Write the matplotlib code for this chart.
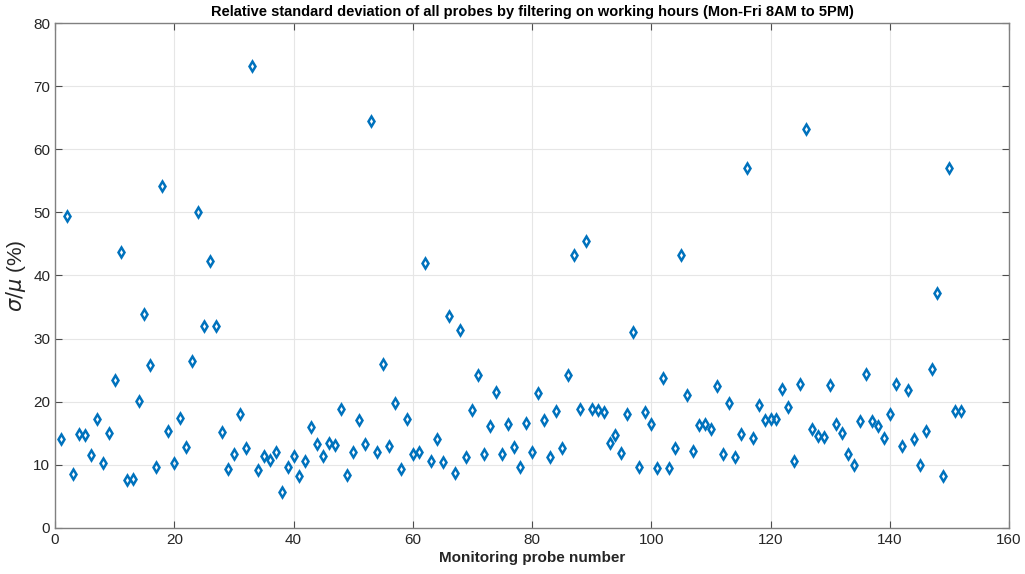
import matplotlib
matplotlib.use("Agg")
import matplotlib.pyplot as plt

# --- data: relative std dev per monitoring probe ---
probe_ids = list(range(1, 153))
rsd_pct = [
    14.1, 49.5, 8.5, 14.8, 14.7, 11.6, 17.3, 10.3, 15.0, 23.4,
    43.7, 7.5, 7.7, 20.1, 33.9, 25.8, 9.7, 54.2, 15.4, 10.3,
    17.4, 12.8, 26.4, 50.0, 32.0, 42.3, 32.0, 15.2, 9.3, 11.7,
    18.0, 12.6, 73.3, 9.1, 11.4, 10.8, 12.0, 5.7, 9.6, 11.4,
    8.2, 10.5, 16.0, 13.2, 11.3, 13.4, 13.1, 18.8, 8.4, 12.0,
    17.1, 13.2, 64.5, 12.0, 26.0, 12.9, 19.7, 9.3, 17.3, 11.7,
    12.0, 42.0, 10.5, 14.0, 10.4, 33.6, 8.7, 31.3, 11.2, 18.6,
    24.2, 11.7, 16.2, 21.5, 11.7, 16.4, 12.8, 9.7, 16.6, 12.0,
    21.3, 17.0, 11.2, 18.5, 12.7, 24.2, 43.2, 18.8, 45.4, 18.8,
    18.7, 18.4, 13.4, 14.7, 11.9, 18.0, 31.1, 9.7, 18.3, 16.5,
    9.5, 23.8, 9.5, 12.7, 43.3, 21.0, 12.1, 16.3, 16.4, 15.7,
    22.5, 11.7, 19.8, 11.2, 14.8, 57.0, 14.3, 19.4, 17.1, 17.3,
    17.3, 22.0, 19.2, 10.6, 22.8, 63.3, 15.6, 14.5, 14.4, 22.7,
    16.4, 15.0, 11.7, 10.0, 16.9, 24.4, 16.9, 16.2, 14.3, 18.0,
    22.8, 13.0, 21.9, 14.1, 9.9, 15.4, 25.2, 37.2, 8.2, 57.0,
    18.5, 18.5,
]
x_ticks = [0, 20, 40, 60, 80, 100, 120, 140, 160]
y_ticks = [0, 10, 20, 30, 40, 50, 60, 70, 80]

plt.rcParams['font.family'] = ['Liberation Sans', 'DejaVu Sans']

fig = plt.figure(figsize=(10.25, 5.74), dpi=100)
ax = fig.add_axes([0.0537, 0.0807, 0.9307, 0.8787])

ax.plot(probe_ids, rsd_pct, linestyle='none', marker='d', markersize=5.5,
        markerfacecolor='none', markeredgecolor='#0072BD', markeredgewidth=1.8)

ax.set_xlim(0, 160)
ax.set_ylim(0, 80)
ax.set_xticks(x_ticks)
ax.set_yticks(y_ticks)
ax.grid(True, color='#e6e6e6', linewidth=0.8)
ax.set_axisbelow(True)

# matlab-ish box with inward ticks on all sides
ax.tick_params(direction='in', top=True, right=True, length=5,
               colors='#4d4d4d', labelcolor='#262626', labelsize=11)
for s in ax.spines.values():
    s.set_color('#808080')
    s.set_linewidth(1.0)

ax.set_title("Relative standard deviation of all probes by filtering on working hours (Mon-Fri 8AM to 5PM)",
             fontsize=10.5, fontweight='bold', pad=5)
ax.set_xlabel("Monitoring probe number", fontsize=11, fontweight='bold', color='#262626', labelpad=3)
ax.set_ylabel(r"$\sigma/\mu$ (%)", fontsize=15, color='#262626', labelpad=4)

fig.savefig("out.png", dpi=100)
